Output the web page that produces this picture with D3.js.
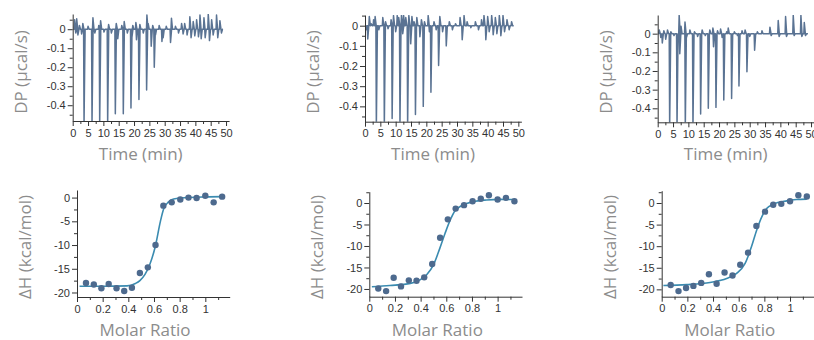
<!DOCTYPE html>
<html>
<head>
<meta charset="utf-8">
<script src="https://cdn.jsdelivr.net/npm/d3@7"></script>
<style>
  body { margin: 0; background: #fff; }
  svg { display: block; font-family: 'Open Sans', sans-serif; }
  .tick text { fill: #333; font-size: 11px; }
  .domain, .tick line { stroke: #333; }
  .title { fill: #8c8c8c; font-size: 17px; }
</style>
</head>
<body>
<svg id="chart" width="814" height="340"></svg>
<script>
// ---- Thermograms: injection peaks (time in min, DP in µcal/s) ----
const inj1Time = [3.7, 6.3, 8.8, 11.4, 13.9, 16.5, 19.0, 21.6, 24.1, 26.6, 29.1, 31.9];
const inj1DP   = [-0.5, -0.5, -0.5, -0.5, -0.445, -0.445, -0.415, -0.37, -0.32, -0.2, -0.065, -0.07];
const inj2Time = [3.7, 6.3, 8.85, 11.4, 13.9, 16.45, 19.0, 21.5, 24.0, 26.5];
const inj2DP   = [-0.5, -0.5, -0.46, -0.5, -0.5, -0.44, -0.4, -0.33, -0.197, -0.1];
const inj3Time = [3.9, 6.3, 9.0, 11.5, 14.0, 16.5, 19.0, 21.55, 24.1, 26.5, 29.1, 31.6];
const inj3DP   = [-0.5, -0.5, -0.5, -0.5, -0.43, -0.4, -0.395, -0.356, -0.347, -0.28, -0.204, -0.089];

// small baseline spikes [time, DP]
const noise1 = [[0.6, 0.05], [1.0, -0.02], [1.3, 0.055], [1.7, -0.03], [2.2, 0.02], [2.9, -0.025], [3.3, 0.03],
  [5.0, 0.015], [6.6, 0.06], [7.2, -0.02], [8.5, 0.02], [9.1, 0.045], [10.2, -0.015], [11.7, 0.025], [12.6, -0.02],
  [14.2, 0.03], [14.7, -0.05], [16.0, 0.02], [16.8, 0.04], [17.8, -0.02], [19.3, -0.045], [19.6, 0.02], [20.6, 0.035],
  [20.8, -0.055], [21.9, 0.025], [23.0, -0.02], [24.2, 0.075], [24.6, 0.03], [25.6, -0.09], [26.1, 0.02], [27.0, -0.03],
  [28.2, 0.02], [29.5, -0.045], [30.5, 0.015], [32.2, 0.058], [33.5, 0.015], [34.5, -0.02], [35.5, 0.03], [36.0, -0.025],
  [36.5, 0.03], [37.3, -0.03], [38.2, 0.065], [38.6, -0.045], [39.3, 0.04], [39.8, -0.035], [40.4, 0.05], [41.0, -0.04],
  [41.5, 0.075], [41.9, -0.05], [42.8, 0.06], [43.2, -0.045], [44.2, 0.08], [44.6, -0.06], [45.3, 0.05], [45.8, -0.03],
  [46.9, 0.075], [47.3, -0.045], [48.0, 0.045], [48.5, -0.02]];
const noise2 = [[0.5, -0.02], [0.9, -0.066], [1.4, 0.045], [2.0, 0.01], [2.8, 0.03], [3.3, 0.045], [4.5, -0.02],
  [5.8, 0.04], [6.7, 0.02], [7.5, -0.015], [8.5, 0.03], [9.3, 0.05], [10.0, -0.03], [10.5, 0.05], [11.0, 0.04],
  [11.9, 0.055], [12.3, -0.04], [12.6, 0.05], [13.3, 0.04], [14.3, 0.05], [14.9, -0.09], [15.3, 0.045], [16.0, 0.02],
  [16.9, 0.04], [17.9, -0.055], [18.4, 0.03], [19.4, 0.02], [20.6, 0.05], [21.0, -0.03], [22.5, 0.02], [23.2, -0.02],
  [24.4, 0.045], [25.3, -0.03], [27.5, 0.02], [28.5, -0.02], [29.5, 0.01], [31.0, 0.04], [31.7, -0.07], [32.3, 0.05],
  [33.3, 0.02], [34.5, -0.01], [36.0, 0.02], [37.0, -0.02], [38.0, 0.03], [38.8, 0.05], [39.4, -0.07], [40.0, 0.045],
  [40.5, -0.03], [41.3, 0.05], [41.8, -0.045], [42.5, 0.04], [43.0, -0.04], [43.8, 0.05], [44.3, -0.05], [45.0, 0.05],
  [45.5, -0.03], [46.3, 0.03], [47.0, -0.02], [47.8, 0.02]];
const noise3 = [[0.5, 0.02], [1.0, -0.02], [1.5, -0.05], [2.0, 0.015], [2.6, -0.03], [3.2, 0.02], [4.3, 0.01],
  [5.3, -0.01], [7.0, 0.098], [7.2, -0.107], [7.6, 0.04], [8.9, 0.062], [9.4, -0.02], [10.5, 0.02], [12.0, 0.01],
  [13.0, -0.015], [14.5, 0.02], [15.5, -0.01], [17.0, 0.02], [18.0, 0.03], [18.2, -0.07], [19.5, 0.015], [20.5, 0.025],
  [21.0, -0.02], [22.5, 0.01], [23.0, 0.03], [25.0, 0.01], [26.0, -0.01], [27.5, 0.015], [28.5, 0.02], [30.0, -0.015],
  [32.5, 0.01], [34.0, 0.015], [36.6, 0.035], [37.0, -0.01], [39.3, 0.07], [39.6, -0.015], [41.7, 0.092], [42.0, -0.015],
  [44.2, 0.098], [44.5, -0.01], [46.7, 0.098], [47.0, -0.015], [47.8, 0.06], [48.2, -0.01]];

// ---- Binding isotherms ----
const molarRatio = [0.07, 0.131, 0.19, 0.247, 0.308, 0.368, 0.428, 0.49, 0.552, 0.612, 0.673, 0.738, 0.805, 0.869, 0.932, 1.0, 1.065, 1.131];
const dH1 = [-18.0, -18.3, -19.1, -18.2, -19.1, -19.7, -19.0, -15.9, -14.7, -10.0, -1.7, -1.0, -0.4, 0.0, -0.1, 0.4, -1.0, 0.2];
const dH2 = [-19.9, -20.5, -17.4, -19.4, -18.0, -18.1, -17.3, -14.2, -8.1, -3.8, -1.3, -0.5, 0.4, 1.0, 1.8, 0.8, 1.2, 0.4];
const dH3 = [-19.0, -20.4, -19.7, -19.2, -18.5, -16.5, -18.7, -16.1, -16.8, -14.3, -11.5, -5.3, -2.0, -0.4, -0.2, 0.4, 1.8, 1.5];

// fitted curves
const fit1Ratio = [0.02, 0.2, 0.39, 0.455, 0.49, 0.53, 0.57, 0.61, 0.65, 0.675, 0.714, 0.753, 0.85, 1.0, 1.13];
const fit1DH    = [-18.7, -18.7, -18.6, -18.1, -17.5, -16.2, -13.9, -10.3, -5.0, -2.4, -0.9, -0.3, 0.0, 0.15, 0.2];
const fit2Ratio = [0.02, 0.16, 0.32, 0.395, 0.447, 0.5, 0.55, 0.59, 0.63, 0.668, 0.72, 0.81, 0.914, 1.02, 1.13];
const fit2DH    = [-19.5, -19.2, -18.7, -17.9, -16.7, -14.4, -10.5, -7.1, -4.0, -1.8, -0.6, 0.3, 0.7, 0.85, 0.8];
const fit3Ratio = [0.013, 0.195, 0.377, 0.506, 0.584, 0.65, 0.70, 0.74, 0.78, 0.818, 0.87, 0.974, 1.05, 1.13];
const fit3DH    = [-19.1, -18.9, -18.4, -17.5, -16.3, -14.0, -10.1, -6.3, -3.2, -1.3, -0.3, 0.5, 0.8, 0.9];

// ---- tick values ----
const dpTicks = [0, -0.1, -0.2, -0.3, -0.4];
const dpMinor = [0.05, -0.05, -0.15, -0.25, -0.35, -0.45];
const timeTicks = [0, 5, 10, 15, 20, 25, 30, 35, 40, 45, 50];
const timeMinor = [2.5, 7.5, 12.5, 17.5, 22.5, 27.5, 32.5, 37.5, 42.5, 47.5];
const dhTicks = [0, -5, -10, -15, -20];
const dhMinor = [2.5, -2.5, -7.5, -12.5, -17.5];
const ratioTicks = [0, 0.2, 0.4, 0.6, 0.8, 1];
const ratioMinor = [0.1, 0.3, 0.5, 0.7, 0.9, 1.1];

const traceColor = '#5a7393';
const pointColor = '#4d6a8e';
const fitColor = '#3a8bb0';

const svg = d3.select('#chart');
const fmt = d => String(d);

// draws left + bottom axes with major and minor ticks
function drawAxes(g, x, y, xt, xm, yt, ym) {
  const [y0, y1] = y.domain();
  const inY = v => v >= Math.min(y0, y1) && v <= Math.max(y0, y1);
  const bottom = y.range()[0];
  g.append('g').attr('transform', `translate(0,${bottom})`)
    .call(d3.axisBottom(x).tickValues(xm).tickSize(3).tickFormat(''))
    .select('.domain').remove();
  g.append('g').attr('transform', `translate(${x.range()[0]},0)`)
    .call(d3.axisLeft(y).tickValues(ym.filter(inY)).tickSize(3).tickFormat(''))
    .select('.domain').remove();
  g.append('g').attr('transform', `translate(0,${bottom})`)
    .call(d3.axisBottom(x).tickValues(xt).tickSize(5).tickSizeOuter(0).tickPadding(3).tickFormat(fmt));
  g.append('g').attr('transform', `translate(${x.range()[0]},0)`)
    .call(d3.axisLeft(y).tickValues(yt).tickSize(5).tickSizeOuter(0).tickPadding(2).tickFormat(fmt));
}

function titles(g, x0, xLabel, yLabel, xLabelY, yMid) {
  g.append('text').attr('class', 'title').attr('text-anchor', 'middle')
    .attr('x', x0 + 68).attr('y', xLabelY).text(xLabel);
  g.append('text').attr('class', 'title').attr('text-anchor', 'middle')
    .attr('transform', `translate(${x0 - 46},${yMid}) rotate(-90)`).text(yLabel);
}

// thermogram panels
const topPanels = [
  { x0: 72.7, dom: [-0.483, 0.08], rng: [121, 14], t: inj1Time, dp: inj1DP, noise: noise1, end: 49.0 },
  { x0: 365, dom: [-0.476, 0.053], rng: [121.7, 15], t: inj2Time, dp: inj2DP, noise: noise2, end: 48.5 },
  { x0: 657.7, dom: [-0.475, 0.1], rng: [122.3, 15], t: inj3Time, dp: inj3DP, noise: noise3, end: 49.0 }
];

topPanels.forEach((p, i) => {
  const g = svg.append('g');
  const x = d3.scaleLinear().domain([0, 51]).range([p.x0, p.x0 + 156.4]);
  const y = d3.scaleLinear().domain(p.dom).range(p.rng);

  const clipId = 'clip' + i;
  svg.append('clipPath').attr('id', clipId).append('rect')
    .attr('x', p.x0).attr('y', p.rng[1]).attr('width', 160).attr('height', p.rng[0] - p.rng[1]);

  // every event is a thin spike off the baseline
  const ev = p.t.map((t, k) => [t, p.dp[k]]).concat(p.noise).sort((a, b) => a[0] - b[0]);
  const pts = [[0.2, 0]];
  ev.forEach(([t, v]) => { pts.push([t - 0.15, 0], [t, v], [t + 0.35, 0]); });
  pts.push([p.end, 0]);

  g.append('path')
    .datum(pts)
    .attr('clip-path', `url(#${clipId})`)
    .attr('fill', 'none')
    .attr('stroke', traceColor)
    .attr('stroke-width', 1.5)
    .attr('stroke-linejoin', 'round')
    .attr('d', d3.line().x(d => x(d[0])).y(d => y(d[1])));

  drawAxes(g, x, y, timeTicks, timeMinor, dpTicks, dpMinor);
  titles(g, p.x0, 'Time (min)', 'DP (µcal/s)', 160, 72);
});

// isotherm panels
const bottomPanels = [
  { x0: 77, dom: [-20.95, 1.6], rng: [297, 190], dh: dH1, fx: fit1Ratio, fy: fit1DH },
  { x0: 369.3, dom: [-21.8, 2.63], rng: [296.7, 191.7], dh: dH2, fx: fit2Ratio, fy: fit2DH },
  { x0: 661.7, dom: [-21.7, 2.85], rng: [296.7, 190.7], dh: dH3, fx: fit3Ratio, fy: fit3DH }
];

bottomPanels.forEach(p => {
  const g = svg.append('g');
  const x = d3.scaleLinear().domain([0, 1.19]).range([p.x0, p.x0 + 152.7]);
  const y = d3.scaleLinear().domain(p.dom).range(p.rng);

  drawAxes(g, x, y, ratioTicks, ratioMinor, dhTicks, dhMinor);

  g.append('path')
    .datum(p.fx.map((r, k) => [r, p.fy[k]]))
    .attr('fill', 'none')
    .attr('stroke', fitColor)
    .attr('stroke-width', 1.6)
    .attr('d', d3.line().x(d => x(d[0])).y(d => y(d[1])).curve(d3.curveMonotoneX));

  g.selectAll('.pt')
    .data(molarRatio.map((r, k) => [r, p.dh[k]]))
    .enter().append('circle')
    .attr('class', 'pt')
    .attr('cx', d => x(d[0]))
    .attr('cy', d => y(d[1]))
    .attr('r', 3.2)
    .attr('fill', pointColor);

  titles(g, p.x0, 'Molar Ratio', 'ΔH (kcal/mol)', 335.5, 247);
});
</script>
</body>
</html>
